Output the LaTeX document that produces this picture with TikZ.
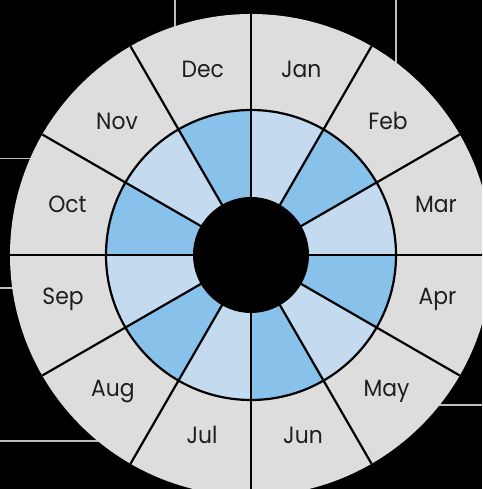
\documentclass[tikz,border=0pt]{standalone}
\usepackage{fontspec}
\setmainfont{Poppins}[FakeStretch=0.93]
\definecolor{ringgray}{HTML}{DCDDDC}
\definecolor{bluedark}{HTML}{88C1EA}
\definecolor{bluelight}{HTML}{C4DAEF}
\definecolor{bggray}{HTML}{BEBEBE}
\definecolor{txt}{HTML}{1E1E1E}
\tikzset{
  bgline/.style={draw=bggray, line width=1.8pt},
  spoke/.style={draw=black, line width=2.2pt},
  lbl/.style={text=txt, font=\fontsize{23.5}{23.5}\selectfont, inner sep=0pt, anchor=base}
}
\begin{document}
\begin{tikzpicture}[x=1pt,y=1pt]
\useasboundingbox (0,0) rectangle (482,489);
\clip (0,0) rectangle (482,489);
\fill[black] (0,0) rectangle (482,489);
\coordinate (c) at (251,234);
% background guide lines
\coordinate (g1a) at (175,489); \coordinate (g1b) at (175,400);
\coordinate (g2a) at (396,489); \coordinate (g2b) at (396,400);
\coordinate (g3a) at (0,330.5); \coordinate (g3b) at (60,330.5);
\coordinate (g4a) at (0,201); \coordinate (g4b) at (40,201);
\coordinate (g5a) at (0,48); \coordinate (g5b) at (130,48);
\coordinate (g6a) at (482,84); \coordinate (g6b) at (400,84);
\path[bgline] (g1a) -- (g1b) (g2a) -- (g2b) (g3a) -- (g3b)
  (g4a) -- (g4b) (g5a) -- (g5b) (g6a) -- (g6b);
% outer ring
\fill[ringgray] (c) circle[radius=241];
% inner ring sectors
\foreach \i in {0,...,11}{
  \pgfmathsetmacro{\a}{90-30*\i}
  \pgfmathsetmacro{\b}{60-30*\i}
  \pgfmathtruncatemacro{\odd}{mod(\i,2)}
  \ifnum\odd=0 \def\col{bluelight}\else\def\col{bluedark}\fi
  \fill[\col] (c) -- ++(\a:145) arc[start angle=\a, end angle=\b, radius=145] -- cycle;
}
% spokes
\foreach \k in {0,...,11}{
  \draw[spoke] ([shift={(\k*30:50)}]c) -- ([shift={(\k*30:241)}]c);
}
\draw[black, line width=2.2pt] (c) circle[radius=145];
\fill[black] (c) circle[radius=58];
% labels (baseline positions)
\node[lbl] (jan) at (301.3,411.7) {Jan};
\node[lbl] (feb) at (388,359) {Feb};
\node[lbl] (mar) at (436,276.5) {Mar};
\node[lbl] (apr) at (437.5,184) {Apr};
\node[lbl] (may) at (386.5,92) {May};
\node[lbl] (jun) at (303,45) {Jun};
\node[lbl] (jul) at (202,45) {Jul};
\node[lbl] (aug) at (112.8,92) {Aug};
\node[lbl] (sep) at (63,184) {Sep};
\node[lbl] (oct) at (67.5,276.5) {Oct};
\node[lbl] (nov) at (117,359) {Nov};
\node[lbl] (dec) at (202.7,411.7) {Dec};
\end{tikzpicture}
\end{document}
